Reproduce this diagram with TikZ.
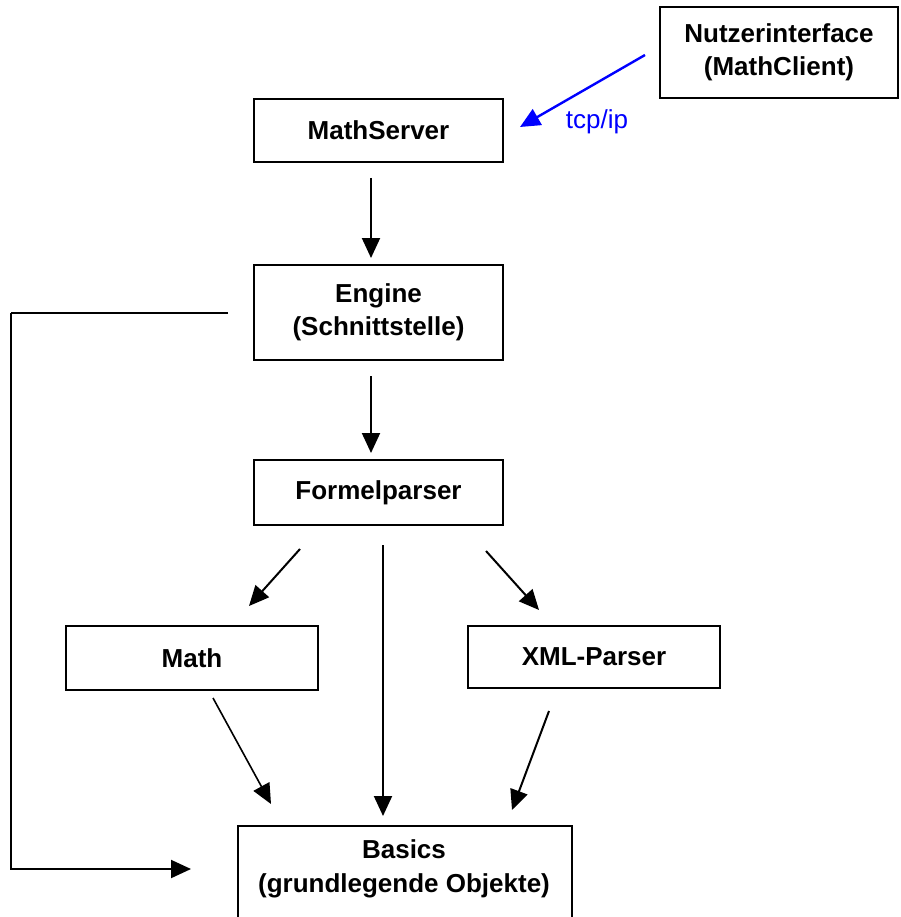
\documentclass[tikz,border=0pt]{standalone}
\usepackage{fontspec}
\setmainfont{Liberation Sans}
\usetikzlibrary{arrows.meta}
\begin{document}
\begin{tikzpicture}[x=1pt,y=-1pt,
  box/.style={draw=black,line width=2.4pt,fill=white,inner sep=0pt,align=center,
    font=\fontsize{26}{33}\selectfont\bfseries},
  flow/.style={line width=2pt,-{Triangle[length=20pt,width=18pt]}},
  link/.style={line width=1.4pt}]
\useasboundingbox (0,0) rectangle (900,917);

% modules
\node[box,minimum width=238pt,minimum height=91pt] (client) at (779,52.5) {Nutzerinterface\\(MathClient)};
\node[box,minimum width=249pt,minimum height=63pt] (server) at (378.5,130.5) {MathServer};
\node[box,minimum width=249pt,minimum height=95pt] (engine) at (378.5,312.5) {Engine\\(Schnittstelle)};
\node[box,minimum width=249pt,minimum height=65pt] (parser) at (378.5,492.5) {Formelparser};
\node[box,minimum width=252pt,minimum height=64pt] (math) at (192,658) {Math};
\node[box,minimum width=252pt,minimum height=62pt] (xml) at (594,657) {XML-Parser};
\node[box,minimum width=334pt,minimum height=110pt,anchor=north] (basics) at (405,825) {};
\node[font=\fontsize{26}{34}\selectfont\bfseries,align=center] (basicstext) at (404,869) {Basics\\(grundlegende Objekte)};

% connector end points
\coordinate (c1) at (645,55);   \coordinate (c2) at (520,127);
\coordinate (s1) at (371,178);  \coordinate (s2) at (371,258);
\coordinate (e1) at (371,376);  \coordinate (e2) at (371,453);
\coordinate (p1) at (300,549);  \coordinate (p2) at (249,606);
\coordinate (p3) at (383,545);  \coordinate (p4) at (383,816);
\coordinate (p5) at (486,551);  \coordinate (p6) at (539,610);
\coordinate (m1) at (213,698);  \coordinate (m2) at (271,804);
\coordinate (x1) at (549,711);  \coordinate (x2) at (512,810);
\coordinate (f1) at (228,313);  \coordinate (f2) at (11,313);
\coordinate (f3) at (11,869);   \coordinate (f4) at (191,869);

% connectors
\draw[flow,blue,line width=2.4pt] (c1) -- (c2);
\node[text=blue,font=\fontsize{26}{30}\selectfont,anchor=center] (tcp) at (597,122) {tcp/ip};
\draw[flow] (s1) -- (s2);
\draw[flow] (e1) -- (e2);
\draw[flow] (p1) -- (p2);
\draw[flow] (p3) -- (p4);
\draw[flow] (p5) -- (p6);
\draw[flow,line width=1.6pt] (m1) -- (m2);
\draw[flow] (x1) -- (x2);
\draw[link] (f1) -- (f2);
\draw[flow] (f2) -- (f3) -- (f4);
\end{tikzpicture}
\end{document}
